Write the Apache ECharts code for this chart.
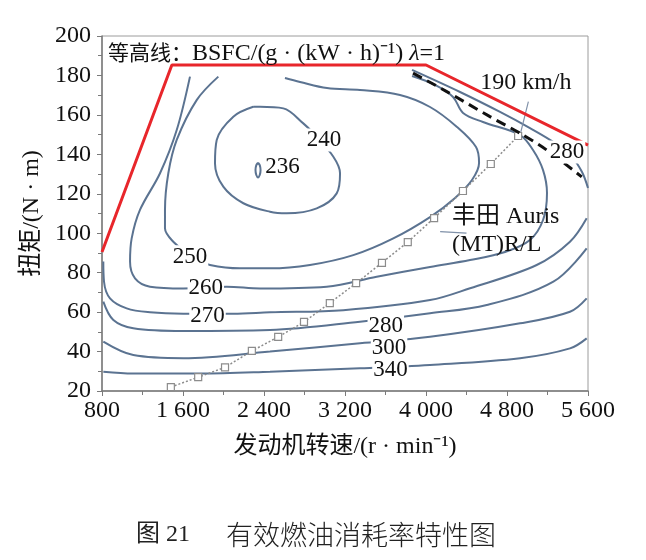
<!DOCTYPE html>
<html>
<head>
<meta charset="utf-8">
<script src="https://cdn.jsdelivr.net/npm/echarts@6/dist/echarts.min.js"></script>
<style>
  html, body { margin: 0; padding: 0; background: #fff; }
  #main { width: 646px; height: 560px; }
</style>
</head>
<body>
<div id="main"></div>
<script>
// 等高线 BSFC，点为 [转速 r/min, 扭矩 N·m]
const c236 = [[2341, 135.7], [2358, 134.5], [2366, 132], [2358, 129.5], [2341, 128.3], [2324, 129.5], [2316, 132], [2324, 134.5], [2341, 135.7]];
const c240 = [[2294, 164.1], [2097, 159.1], [1933, 147.3], [1916, 135.4], [1998, 123.6], [2196, 115.2], [2459, 110.9], [2624, 110.1],
  [2921, 112.6], [3118, 120.2], [3151, 130.4], [3085, 138.8], [2887, 150.7], [2788, 155.7], [2591, 163.3], [2361, 164.1], [2294, 164.1]];
const c250 = [[1949, 179.4], [1735, 167.5], [1538, 147.3], [1455, 130.4], [1422, 111.8], [1422, 102.5], [1504, 95.7], [1702, 87.3],
  [1867, 83.9], [2163, 82.2], [2459, 82.2], [2854, 83.9], [3282, 88.9], [3677, 97.4], [4040, 108.2], [4287, 117.9], [4454, 127.0],
  [4524, 135.6], [4494, 143.7], [4306, 153.9], [4040, 164.0], [3743, 170.1], [3348, 172.6], [3022, 173.6], [2756, 176.7], [2607, 178.7]];
const c260 = [[1669, 179.4], [1538, 152.3], [1373, 130.4], [1175, 111.8], [1093, 97.4], [1077, 85.6], [1126, 77.1], [1274, 72.9],
  [1603, 72.0], [2032, 72.9], [2361, 72.0], [3019, 72.9], [3513, 77.9], [4040, 82.9], [4435, 86.4], [4780, 90.5], [5027, 96.6],
  [5156, 106.7], [5195, 120.4], [5156, 132.0], [5057, 142.2], [4929, 149.8], [4563, 156.4], [4366, 161.0], [4267, 169.1],
  [4089, 175.2], [3862, 179.7]];
const c270 = [[813, 85.6], [820, 75.4], [879, 67.0], [1044, 61.9], [1274, 59.9], [1603, 59.2], [2097, 59.2], [2459, 59.9],
  [3183, 61.0], [4040, 66.1], [4435, 72.1], [5093, 83.9], [5422, 95.7], [5587, 107.6]];
const c280 = [[813, 65.3], [912, 56.0], [1109, 51.8], [1603, 50.4], [2459, 50.9], [3348, 55.1], [4040, 59.4], [4600, 63.6],
  [5258, 75.4], [5587, 92.3]];
const c280top = [[3862, 182.8], [4336, 171.6], [4731, 161.5], [5027, 153.3], [5274, 145.7], [5442, 138.6], [5541, 131.0], [5600, 122.9]];
const c300 = [[813, 45.0], [1109, 38.2], [1603, 36.6], [2459, 40.0], [3348, 44.2], [4040, 47.5], [4929, 54.3], [5422, 60.2], [5587, 67.0]];
const c340 = [[813, 29.8], [1109, 28.9], [1768, 28.9], [2459, 29.8], [3348, 31.5], [4040, 33.2], [4929, 36.6], [5422, 41.6], [5587, 46.7]];

// 外特性（红线）和 190 km/h 限制（黑虚线）
const fullLoad = [[800, 90.5], [1490, 185.3], [4000, 185.3], [5600, 144.7]];
const limitLine = [[3872, 181.2], [4205, 171.8], [4632, 159.1], [4929, 150.7], [5192, 142.2], [5538, 128.6]];

// 丰田 Auris (MT) R/L 道路负荷点
const roadRpm = [1480, 1750, 2015, 2280, 2540, 2795, 3050, 3310, 3565, 3820, 4080, 4365, 4640, 4910];
const roadTq = [22, 27, 32, 40.3, 47.4, 55, 64.6, 74.7, 85, 95.5, 107.7, 121.4, 135.1, 149.3];

// 标注
const contourText = ['240', '236', '250', '260', '270', '280', '300', '340', '280'];
const contourAt = [[2993, 147.3], [2583, 133.6], [1669, 88.1], [1825, 72.5], [1842, 58.1], [3603, 53.0], [3635, 42.0], [3649, 30.6], [5393, 141.2]];
const leader190 = [[5011, 166.7], [4929, 149.8]];
const leaderAuris = [[4140, 100.8], [4400, 100.0]];

const SERIF = "'Liberation Serif', 'Noto Sans CJK SC', serif";
const LINE_BLUE = '#5b7391';
const INK = '#111';

const contourSeries = [c236, c240, c250, c260, c270, c280, c280top, c300, c340].map((d, i) => ({
  name: 'bsfc' + i,
  type: 'line',
  data: d,
  showSymbol: false,
  smooth: 0.35,
  z: 2,
  lineStyle: { color: LINE_BLUE, width: 2 }
}));

const fmtRpm = (v) => (v >= 1000 ? String(v).replace(/(\d)(\d{3})$/, '$1 $2') : String(v));

const chart = echarts.init(document.getElementById('main'));
chart.setOption({
  animation: false,
  backgroundColor: '#fff',
  title: [{
    left: 103,
    top: 37,
    text: '{a|等高线：}{b|BSFC/(g · (kW · h)⁻¹) }{i|λ}{b|=1}',
    textStyle: {
      fontWeight: 'normal',
      rich: {
        a: { fontFamily: SERIF, fontSize: 21, fontWeight: 'normal', color: INK },
        b: { fontFamily: SERIF, fontSize: 24, fontWeight: 'normal', color: INK },
        i: { fontFamily: SERIF, fontSize: 24, fontWeight: 'normal', fontStyle: 'italic', color: INK }
      }
    }
  }, {
    left: 131,
    top: 518,
    text: '图 21',
    textStyle: { fontFamily: SERIF, fontSize: 24, fontWeight: 'normal', color: '#222' }
  }, {
    left: 221,
    top: 516,
    text: '有效燃油消耗率特性图',
    textStyle: { fontFamily: "'Noto Sans CJK SC', sans-serif", fontSize: 27, fontWeight: 300, color: '#222' }
  }],
  grid: {
    left: 102, right: 58, top: 36, bottom: 169,
    show: true, borderColor: '#9c9c9c', borderWidth: 1
  },
  xAxis: {
    type: 'value',
    min: 800, max: 5600, interval: 800,
    name: '发动机转速/(r · min⁻¹)',
    nameLocation: 'middle',
    nameGap: 44,
    nameTextStyle: { fontFamily: SERIF, fontSize: 24, color: INK },
    axisLine: { onZero: false, lineStyle: { color: '#7a7a7a', width: 1.5 } },
    axisTick: { length: 5, lineStyle: { color: '#7a7a7a' } },
    minorTick: { show: true, splitNumber: 2, length: 4, lineStyle: { color: '#7a7a7a' } },
    axisLabel: { margin: 8, fontFamily: SERIF, fontSize: 24, color: INK, formatter: fmtRpm },
    splitLine: { show: false }
  },
  yAxis: {
    type: 'value',
    min: 20, max: 200, interval: 20,
    name: '扭矩/(N · m)',
    nameLocation: 'middle',
    nameGap: 39,
    nameTextStyle: { fontFamily: SERIF, fontSize: 24, color: INK },
    axisLine: { onZero: false, lineStyle: { color: '#7a7a7a', width: 1.5 } },
    axisTick: { length: 5, lineStyle: { color: '#7a7a7a' } },
    minorTick: { show: true, splitNumber: 2, length: 4, lineStyle: { color: '#7a7a7a' } },
    axisLabel: { margin: 11, fontFamily: SERIF, fontSize: 24, color: INK },
    splitLine: { show: false }
  },
  series: [
    ...contourSeries,
    {
      name: 'road',
      type: 'line',
      data: roadRpm.map((r, i) => [r, roadTq[i]]),
      symbol: 'rect',
      symbolSize: 7,
      z: 3,
      itemStyle: { color: '#fff', borderColor: '#8c8c8c', borderWidth: 1.2 },
      lineStyle: { color: '#8c8c8c', width: 1.5, type: [2, 2] }
    },
    {
      name: 'leaders',
      type: 'lines',
      coordinateSystem: 'cartesian2d',
      z: 3,
      data: [{ coords: leader190 }, { coords: leaderAuris }],
      lineStyle: { color: '#7f90a8', width: 1.2, opacity: 1 }
    },
    {
      name: 'limit',
      type: 'line',
      data: limitLine,
      showSymbol: false,
      smooth: 0.3,
      z: 4,
      lineStyle: { color: INK, width: 3, type: [10, 6] }
    },
    {
      name: 'fullLoad',
      type: 'line',
      data: fullLoad,
      showSymbol: false,
      z: 5,
      lineStyle: { color: '#e8262b', width: 3 }
    },
    {
      name: 'contourLabels',
      type: 'scatter',
      z: 6,
      symbolSize: 0.1,
      itemStyle: { color: '#fff', opacity: 1 },
      data: contourAt.map((p, i) => ({ value: p, name: contourText[i] })),
      label: {
        show: true, position: 'inside', formatter: '{b}',
        fontFamily: SERIF, fontSize: 23, color: INK, textBorderWidth: 0,
        backgroundColor: '#fff', padding: [0, 1]
      }
    },
    {
      name: 'notes',
      type: 'scatter',
      z: 6,
      symbolSize: 0.1,
      itemStyle: { color: '#fff', opacity: 1 },
      data: [
        { value: [4986, 176.4], name: '190 km/h', label: { position: 'inside', align: 'center' } },
        { value: [4257, 101.1], name: '丰田 Auris\n(MT)R/L', label: { position: 'right', distance: 0, align: 'left', lineHeight: 28 } }
      ],
      label: {
        show: true, formatter: '{b}',
        fontFamily: SERIF, fontSize: 24, color: INK, textBorderWidth: 0
      }
    }
  ]
});
</script>
</body>
</html>
